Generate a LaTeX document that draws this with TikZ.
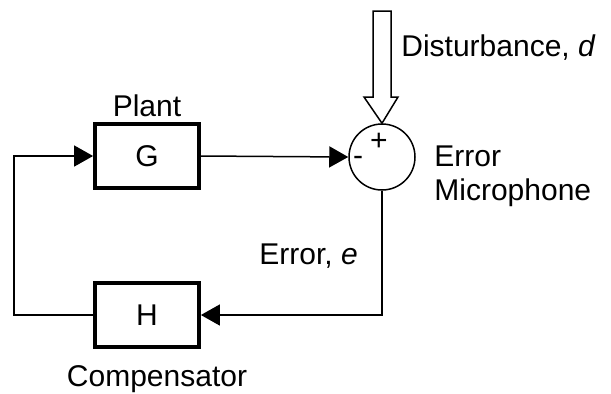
\documentclass[tikz,border=0pt]{standalone}
\usepackage{fontspec}
\setmainfont{Liberation Sans}
\usetikzlibrary{arrows.meta, positioning}

\begin{document}
\begin{tikzpicture}[x=0.5pt, y=-0.5pt,
    every node/.style={font=\fontsize{15}{18}\selectfont},
    block/.style={draw, line width=1.9pt, minimum width=52pt, minimum height=32pt, inner sep=0pt},
    label/.style={inner sep=0pt},
    sig/.style={line width=0.75pt, -{Triangle[length=9.5pt, width=10.5pt]}}]
  \useasboundingbox (0,0) rectangle (611,393);
  % ---------- BLOCKS ----------
  \node[block] (G) at (147,156) {G};
  \node[block] (H) at (147,315) {H};
  \node[circle, draw, line width=0.75pt, minimum size=33pt, inner sep=0pt] (S) at (382,157) {};
  % ---------- DISTURBANCE ----------
  \draw[line width=0.75pt, fill=white] (373,11) -- (391,11) -- (391,97) -- (398,97)
    -- (S.north) -- (364,97) -- (373,97) -- cycle;
  % ---------- SIGNALS ----------
  \coordinate (loopL) at (14,315);
  \draw[sig] (G.east) -- (S.west);
  \draw[sig] (S.south) |- (H.east);
  \draw[sig] (H.west) -- (loopL) |- (G.west);
  % ---------- LABELS ----------
  \node[label] (plus) at (379,142) {+};
  \node[label] (minus) at (358,161) {-};
  \node[label, anchor=base] (plant) at (147,116) {Plant};
  \node[label, anchor=base] (comp) at (157,386) {Compensator};
  \node[label, anchor=base west] (err) at (259,264) {Error, \textit{e}};
  \node[label, anchor=base west] (dist) at (401,56) {Disturbance, \textit{d}};
  \node[label, anchor=base west] (mic1) at (434,166) {Error};
  \node[label, anchor=base west] (mic2) at (434,200) {Microphone};
\end{tikzpicture}
\end{document}
